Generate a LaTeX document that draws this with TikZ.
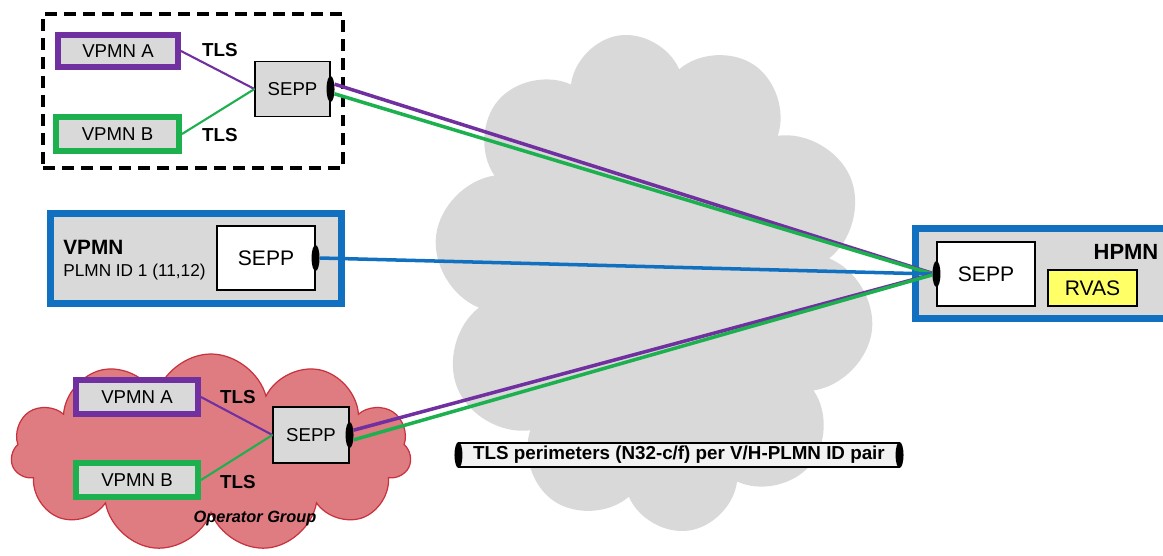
\documentclass[tikz,border=0pt]{standalone}
\usepackage{fontspec}
\setmainfont{Liberation Sans}
\usetikzlibrary{shapes.geometric,shapes.symbols}

\definecolor{vpurple}{HTML}{7030A0}
\definecolor{vgreen}{HTML}{1DB04F}
\definecolor{vblue}{HTML}{1270C0}
\definecolor{boxgray}{HTML}{D9D9D9}
\definecolor{rvyellow}{HTML}{FFFF66}
\definecolor{opfill}{HTML}{DF7C82}
\definecolor{opedge}{HTML}{C8323C}
\definecolor{pillfill}{HTML}{F2F2F2}

\newcommand{\pxu}{0.02cm}

\tikzset{
    netbox/.style={draw, fill=boxgray, line width=3.4pt, inner sep=0pt, font=\fontsize{10.6}{12}\selectfont},
    plmnbox/.style={draw=vblue, fill=boxgray, line width=4pt, inner sep=0pt},
    seppbox/.style={draw, fill=boxgray, line width=0.6pt, inner sep=0pt, font=\fontsize{10.6}{12}\selectfont},
    port/.style={ellipse, fill=black, inner sep=0pt, minimum width=8*\pxu, minimum height=26*\pxu},
    tls/.style={font=\bfseries\fontsize{10.7}{12}\selectfont},
    link/.style={line width=1.2pt},
    trunk/.style={line width=2pt},
}

\begin{document}
\begin{tikzpicture}[x=0.02cm, y=-0.02cm]

    \useasboundingbox (0,0) rectangle (1163,555);

    %% Backgrounds

    % Inter-PLMN cloud
    \node[cloud, cloud puffs=10, cloud ignores aspect, fill=boxgray, rotate=8, minimum width=440*\pxu, minimum height=500*\pxu] (ipx) at (654,283) {};

    % Operator group cloud
    \node[cloud, cloud puffs=11, cloud ignores aspect, draw=opedge, fill=opfill, line width=0.7pt, minimum width=400*\pxu, minimum height=198*\pxu] (opgrp) at (211,453) {};

    %% Top group (dashed)
    \node[draw, line width=2pt, dash pattern=on 6.8pt off 4pt, minimum width=300*\pxu, minimum height=154*\pxu] (tgrp) at (193,91) {};
    \node[netbox, draw=vpurple, minimum width=120*\pxu, minimum height=32*\pxu] (tA) at (118,51) {VPMN A};
    \node[netbox, draw=vgreen, minimum width=123*\pxu, minimum height=34*\pxu] (tB) at (117.5,134) {VPMN B};
    \node[seppbox, minimum width=75*\pxu, minimum height=55*\pxu] (tsepp) at (292.5,89) {SEPP};
    \node[port] (tport) at (tsepp.east) {};
    \node[tls] (ttlsA) at (220,50) {TLS};
    \node[tls] (ttlsB) at (220,135) {TLS};
    \draw[vpurple, link] (tA.east) -- (tsepp.west);
    \draw[vgreen, link] (tB.east) -- (tsepp.west);

    %% Single VPMN
    \node[plmnbox, minimum width=291*\pxu, minimum height=90*\pxu] (mvpmn) at (196,258.5) {};
    \node[anchor=west, inner sep=0pt, font=\bfseries\fontsize{11.8}{13}\selectfont] (mname) at (63,247) {VPMN};
    \node[anchor=west, inner sep=0pt, font=\fontsize{9.8}{11}\selectfont] (mid) at (63,272) {PLMN ID 1 (11,12)};
    \node[seppbox, fill=white, font=\fontsize{12}{14}\selectfont, minimum width=98*\pxu, minimum height=64*\pxu] (msepp) at (266,258) {SEPP};
    \node[port] (mport) at (msepp.east) {};

    %% HPMN
    \node[plmnbox, minimum width=259*\pxu, minimum height=90*\pxu] (hpmn) at (1045,273.5) {};
    \node[font=\bfseries\fontsize{12.5}{14}\selectfont] (hname) at (1126,252) {HPMN};
    \node[seppbox, fill=white, font=\fontsize{12}{14}\selectfont, minimum width=98*\pxu, minimum height=64*\pxu] (hsepp) at (986,274) {SEPP};
    \node[port] (hport) at (hsepp.west) {};
    \node[seppbox, fill=rvyellow, line width=0.9pt, font=\fontsize{12}{14}\selectfont, minimum width=89*\pxu, minimum height=36*\pxu] (rvas) at (1092.5,288) {RVAS};

    %% Operator group
    \node[netbox, draw=vpurple, minimum width=122*\pxu, minimum height=34*\pxu] (bA) at (137,397) {VPMN A};
    \node[netbox, draw=vgreen, minimum width=122*\pxu, minimum height=34*\pxu] (bB) at (137,480) {VPMN B};
    \node[seppbox, minimum width=76*\pxu, minimum height=56*\pxu] (bsepp) at (311,435) {SEPP};
    \node[port] (bport) at (bsepp.east) {};
    \node[tls] (btlsA) at (238,397) {TLS};
    \node[tls] (btlsB) at (238,482) {TLS};
    \node[font=\bfseries\itshape\fontsize{9.3}{11}\selectfont] (oplabel) at (255,518) {Operator Group};
    \draw[vpurple, link] (bA.east) -- (bsepp.west);
    \draw[vgreen, link] (bB.east) -- (bsepp.west);

    %% N32 trunks
    \draw[vpurple, trunk] (tport.50) -- (hport.170);
    \draw[vgreen, trunk] (tport.-50) -- (hport.178);
    \draw[vblue, trunk] (mport.east) -- (hport.west);
    \draw[vpurple, trunk] (bport.50) -- (hport.186);
    \draw[vgreen, trunk] (bport.-50) -- (hport.192);

    %% Legend pipe
    \node[draw, fill=pillfill, line width=0.6pt, inner sep=0pt, minimum width=440*\pxu, minimum height=24*\pxu, font=\bfseries\fontsize{10.7}{12}\selectfont] (pipe) at (679,455) {TLS perimeters (N32-c/f) per V/H-PLMN ID pair};
    \node[port] (pipeL) at (pipe.west) {};
    \node[port] (pipeR) at (pipe.east) {};

\end{tikzpicture}
\end{document}
